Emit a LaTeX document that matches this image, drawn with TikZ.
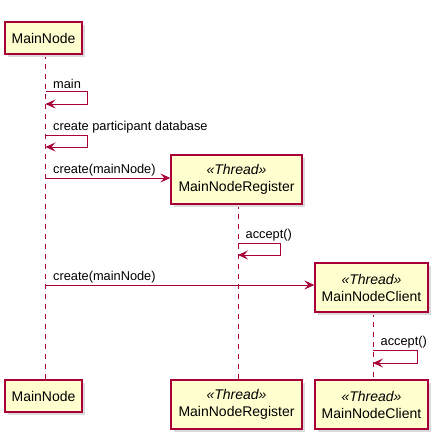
\documentclass[tikz,border=0pt]{standalone}
\usepackage{fontspec}
\setmainfont{Liberation Sans}
\usetikzlibrary{arrows.meta,shadows}
\definecolor{puborder}{HTML}{A80036}
\definecolor{pufill}{HTML}{FEFECE}
\tikzset{
  part/.style={draw=puborder, fill=pufill, line width=1.3pt, rectangle, inner sep=0pt,
    align=center, font=\fontsize{14}{17}\selectfont,
    drop shadow={shadow xshift=3pt, shadow yshift=-3pt, fill=black!14, opacity=1}},
  lifeline/.style={draw=puborder, line width=0.9pt, dash pattern=on 5pt off 5pt},
  msg/.style={draw=puborder, line width=1pt, -{Stealth[length=10pt,width=9pt,inset=4pt]}},
  lbl/.style={font=\fontsize{12.8}{15}\selectfont, inner sep=1pt, anchor=south west},
}
\begin{document}
\begin{tikzpicture}[x=1pt,y=-1pt]
\useasboundingbox (0,0) rectangle (441,442);
% lifelines
\draw[lifeline] (45.5,54) coordinate (ll1a) -- (45.5,380) coordinate (ll1b);
\draw[lifeline] (238,204) coordinate (ll2a) -- (238,380) coordinate (ll2b);
\draw[lifeline] (373,312) coordinate (ll3a) -- (373,380) coordinate (ll3b);
% participants top
\node[part, minimum width=77pt, minimum height=32pt] (mn) at (43.5,38) {MainNode};
\node[part, minimum width=131pt, minimum height=49pt] (reg) at (236.5,179.5) {\textit{«Thread»}\\MainNodeRegister};
\node[part, minimum width=113pt, minimum height=49pt] (cli) at (371.5,287.5) {\textit{«Thread»}\\MainNodeClient};
% participants bottom
\node[part, minimum width=77pt, minimum height=32pt] (mnb) at (43.5,396) {MainNode};
\node[part, minimum width=131pt, minimum height=49pt] (regb) at (236.5,404.5) {\textit{«Thread»}\\MainNodeRegister};
\node[part, minimum width=113pt, minimum height=49pt] (clib) at (371.5,404.5) {\textit{«Thread»}\\MainNodeClient};
% self message main
\coordinate (m1a) at (45.5,91);
\coordinate (m1b) at (45.5,104);
\draw[msg] (m1a) -- ++(41.5,0) |- (m1b);
\node[lbl] (l1) at (52,90) {main};
% self message create participant database
\coordinate (m2a) at (45.5,135);
\coordinate (m2b) at (45.5,147);
\draw[msg] (m2a) -- ++(41.5,0) |- (m2b);
\node[lbl] (l2) at (52,134) {create participant database};
% create register
\coordinate (m3a) at (45.5,178);
\draw[msg] (m3a) -- (m3a -| reg.west);
\node[lbl] (l3) at (52,177) {create(mainNode)};
% register accept
\coordinate (m4a) at (238,243);
\coordinate (m4b) at (238,255);
\draw[msg] (m4a) -- ++(42,0) |- (m4b);
\node[lbl] (l4) at (244.5,242) {accept()};
% create client
\coordinate (m5a) at (45.5,285);
\draw[msg] (m5a) -- (m5a -| cli.west);
\node[lbl] (l5) at (52,284) {create(mainNode)};
% client accept
\coordinate (m6a) at (373,350);
\coordinate (m6b) at (373,363);
\draw[msg] (m6a) -- ++(44,0) |- (m6b);
\node[lbl] (l6) at (379.5,349) {accept()};
\end{tikzpicture}
\end{document}
